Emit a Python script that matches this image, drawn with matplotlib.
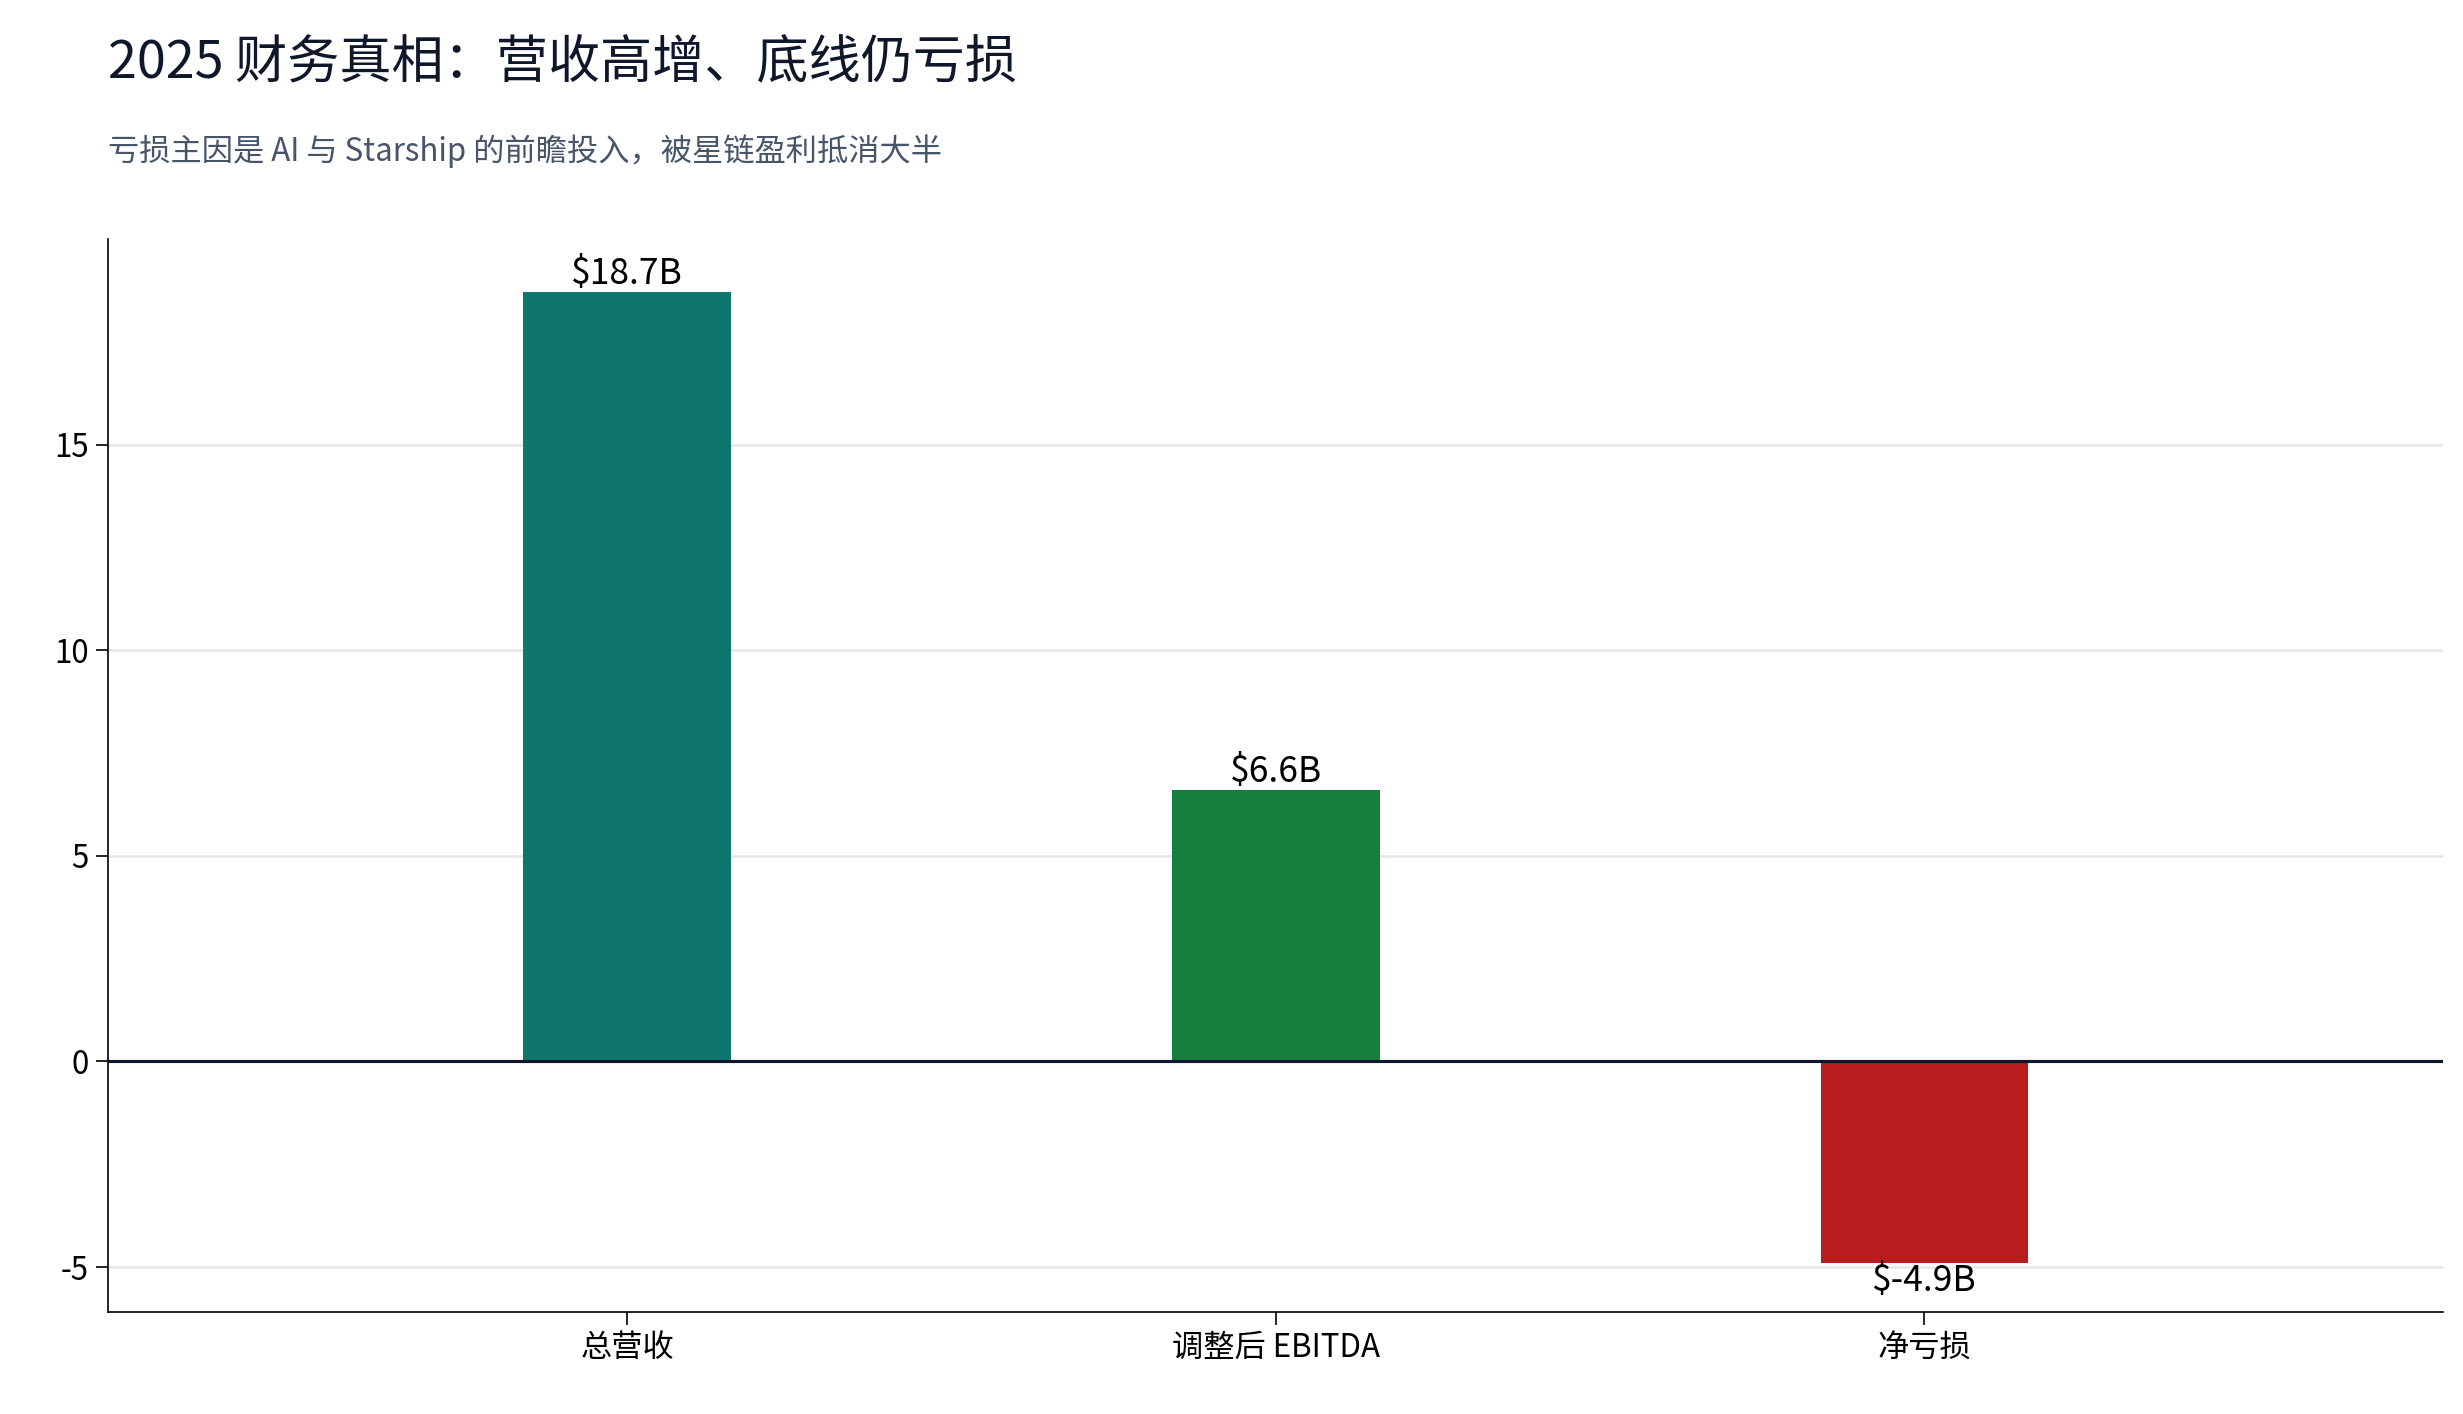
import matplotlib
matplotlib.use("Agg")
import matplotlib.pyplot as plt

plt.rcParams['font.family'] = ['Noto Sans CJK SC', 'DejaVu Sans']

categories = ["总营收", "调整后 EBITDA", "净亏损"]
values = [18.7, 6.6, -4.9]
labels = ["$18.7B", "$6.6B", "$-4.9B"]
colors = ["#0F766E", "#15803D", "#B91C1C"]

fig = plt.figure(figsize=(16.42, 9.427), dpi=150)
ax = fig.add_axes([0.044, 0.072, 0.948, 0.759])
x = list(range(len(categories)))
bars = ax.bar(x, values, width=0.32, color=colors, zorder=3)
for b, v, l in zip(bars, values, labels):
    if v >= 0:
        ax.text(b.get_x() + b.get_width()/2, v, l, ha="center", va="bottom", fontsize=17, zorder=4)
    else:
        ax.text(b.get_x() + b.get_width()/2, v, l, ha="center", va="top", fontsize=17, zorder=4)
ax.axhline(0, color="#0f172a", lw=1.5, zorder=4)
ax.set_xticks(x)
ax.set_xticklabels(categories, fontsize=15)
ax.set_yticks([-5, 0, 5, 10, 15])
ax.set_yticklabels(["-5", "0", "5", "10", "15"], fontsize=15)
ax.set_xlim(-0.8, 2.8)
ax.set_ylim(-6.1, 20)
ax.yaxis.grid(True, color="#e5e7eb", lw=1.2, zorder=0)
ax.spines["top"].set_visible(False)
ax.spines["right"].set_visible(False)
ax.tick_params(length=6)

fig.text(0.044, 0.955, "2025 财务真相：营收高增、底线仍亏损", fontsize=25, color="#0f172a", va="center")
fig.text(0.044, 0.893, "亏损主因是 AI 与 Starship 的前瞻投入，被星链盈利抵消大半", fontsize=15, color="#475569", va="center")
fig.savefig("out.png", dpi=150)
